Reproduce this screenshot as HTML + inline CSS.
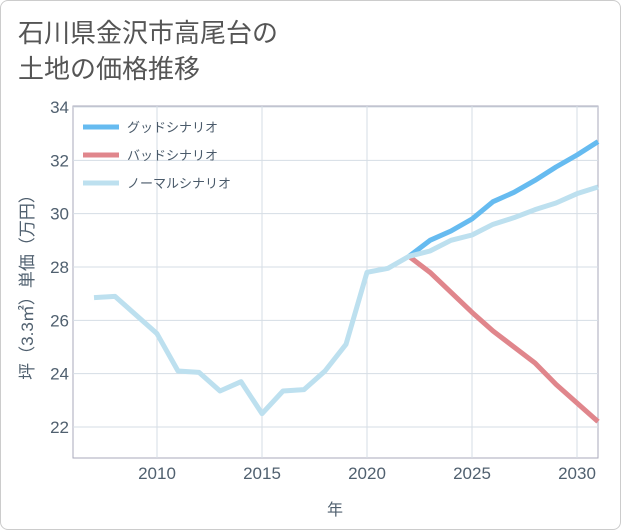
<!DOCTYPE html>
<html><head><meta charset="utf-8"><style>
body{margin:0;background:#fff;font-family:"Liberation Sans","Noto Sans CJK JP",sans-serif;}
#wrap{position:relative;width:619px;height:528px;border:1px solid #ccc;border-radius:8px;overflow:hidden;}
#title{position:absolute;left:17px;top:14px;font-size:26px;line-height:36px;color:#555;}
svg{position:absolute;left:0;top:0}
</style></head><body>
<div id="wrap">
<div id="title">石川県金沢市高尾台の<br>土地の価格推移</div>
<svg id="chart" width="621" height="530"></svg>
</div>
<script>
const years=[2007,2008,2009,2010,2011,2012,2013,2014,2015,2016,2017,2018,2019,2020,2021,2022,2023,2024,2025,2026,2027,2028,2029,2030,2031];
const normalVals=[26.85,26.9,26.2,25.5,24.1,24.05,23.35,23.7,22.5,23.35,23.4,24.1,25.1,27.8,27.95,28.4,28.6,29.0,29.2,29.6,29.85,30.15,30.4,30.75,31.0];
const scenYears=[2022,2023,2024,2025,2026,2027,2028,2029,2030,2031];
const goodVals=[28.4,29.0,29.35,29.8,30.45,30.8,31.25,31.75,32.2,32.7];
const badVals=[28.4,27.8,27.05,26.3,25.6,25.0,24.4,23.6,22.9,22.2];
const yTicks=[22,24,26,28,30,32,34];
const xTicks=[2010,2015,2020,2025,2030];
const seriesNames=["グッドシナリオ","バッドシナリオ","ノーマルシナリオ"];
const L=72,R=597,T=105,B=457;
const X=v=>L+(v-2006)*(R-L)/25;
const Y=v=>426-(v-22)*(320/12);
const svg=document.getElementById('chart');const NS='http://www.w3.org/2000/svg';
function mk(t,a,p){const e=document.createElementNS(NS,t);for(const k in a)e.setAttribute(k,a[k]);(p||svg).appendChild(e);return e;}
const plot=mk('rect',{x:L,y:T,width:R-L,height:B-T,fill:'none',stroke:'#aab',"stroke-width":1});


yTicks.forEach(v=>{
 const g=mk('line',{x1:L,x2:R,y1:Y(v),y2:Y(v),stroke:'#d5dde5'});
 
 
 const t=mk('text',{x:L-4,y:Y(v)+6,"text-anchor":"end","font-size":17,fill:'#50606f'});t.textContent=v;
 
 
});
xTicks.forEach(v=>{
 const g=mk('line',{x1:X(v),x2:X(v),y1:T,y2:B,stroke:'#d5dde5'});
 
 
 const t=mk('text',{x:X(v),y:478,"text-anchor":"middle","font-size":17,fill:'#50606f'});t.textContent=v;
 
 
});
const xt=mk('text',{x:334,y:514,"text-anchor":"middle","font-size":16,fill:'#50606f'});xt.textContent='年';


const yt=mk('text',{x:0,y:0,transform:'translate(32,282) rotate(-90)',"text-anchor":"middle","font-size":17,fill:'#50606f'});yt.textContent='坪（3.3㎡）単価（万円）';


function line(xs,vs,c,name){const p=mk('polyline',{points:xs.map((x,i)=>X(x)+','+Y(vs[i])).join(' '),fill:'none',stroke:c,"stroke-width":5,"stroke-linejoin":"round"});
 
 }
line(scenYears,badVals,'#e0868c','bad-scenario-line');
line(scenYears,goodVals,'#66bbf0','good-scenario-line');
line(years,normalVals,'#bde0ef','normal-scenario-line');
const cols=['#66bbf0','#e0868c','#bde0ef'];
seriesNames.forEach((n,i)=>{const y=126+i*28;
 const l=mk('line',{x1:82,x2:118,y1:y,y2:y,stroke:cols[i],"stroke-width":5});
 
 
 const t=mk('text',{x:126,y:y+5,"font-size":13,fill:'#4a5a6a'});t.textContent=n;
 
 
});
</script>
</body></html>
